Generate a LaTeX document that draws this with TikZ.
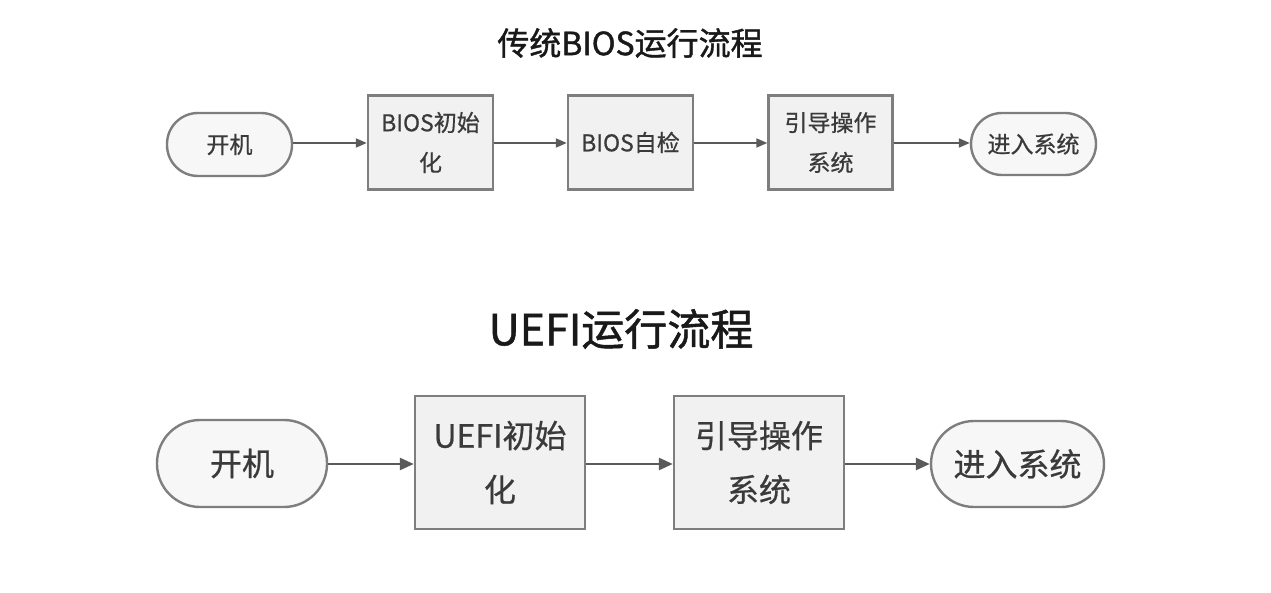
\documentclass[tikz,border=0pt]{standalone}
\usepackage{fontspec}
\newfontfamily\cjk[FakeBold=0.6]{Noto Sans CJK SC}
\newfontfamily\cjkt[FakeBold=1.2]{Noto Sans CJK SC}
\usetikzlibrary{arrows.meta}
\definecolor{boxline}{HTML}{7E7E7E}
\definecolor{boxfill}{HTML}{F1F1F1}
\definecolor{pillfill}{HTML}{F7F7F7}
\definecolor{txt}{HTML}{3A3A3A}
\definecolor{arr}{HTML}{5A5A5A}
\tikzset{
  stepbox/.style={draw=boxline, fill=boxfill, line width=2.4pt, inner sep=0pt, align=center, text=txt},
  pill/.style={stepbox, fill=pillfill},
  smalltxt/.style={font=\cjk\fontsize{23}{40}\selectfont},
  bigtxt/.style={font=\cjk\fontsize{32}{54}\selectfont},
  flow/.style={draw=arr, line width=2pt, -{Triangle[length=11pt,width=9pt]}},
  flowbig/.style={draw=arr, line width=2.6pt, -{Triangle[length=14pt,width=12pt]}},
}
\begin{document}
\begin{tikzpicture}[x=1pt,y=-1pt]
\useasboundingbox[fill=white] (0,0) rectangle (1271,593);
% titles
\node[font=\cjkt\fontsize{32}{36}\selectfont, text=black!90] (t1) at (630,43) {传统BIOS运行流程};
\node[font=\cjkt\fontsize{43}{48}\selectfont, text=black!90] (t2) at (621,329) {UEFI运行流程};
% top row
\node[pill, smalltxt, minimum width=125pt, minimum height=63pt, rounded corners=31pt] (a1) at (229.5,144.5) {开机};
\node[stepbox, smalltxt, minimum width=125pt, minimum height=94pt] (a2) at (430.5,142.5) {BIOS初始\\化};
\node[stepbox, smalltxt, minimum width=125pt, minimum height=94pt] (a3) at (630.5,142.5) {BIOS自检};
\node[stepbox, smalltxt, minimum width=124pt, minimum height=94pt] (a4) at (830.5,142.5) {引导操作\\系统};
\node[pill, smalltxt, minimum width=125pt, minimum height=62pt, rounded corners=31pt] (a5) at (1033.5,144) {进入系统};
\draw[flow] (a1.east |- 0,143) -- (a2.west |- 0,143);
\draw[flow] (a2.east |- 0,143) -- (a3.west |- 0,143);
\draw[flow] (a3.east |- 0,143) -- (a4.west |- 0,143);
\draw[flow] (a4.east |- 0,143) -- (a5.west |- 0,143);
% bottom row
\node[pill, bigtxt, minimum width=170pt, minimum height=87pt, rounded corners=43pt] (b1) at (242,463.5) {开机};
\node[stepbox, bigtxt, minimum width=170pt, minimum height=133pt] (b2) at (500,462.5) {UEFI初始\\化};
\node[stepbox, bigtxt, minimum width=170pt, minimum height=133pt] (b3) at (759,462.5) {引导操作\\系统};
\node[pill, bigtxt, minimum width=173pt, minimum height=86pt, rounded corners=43pt] (b4) at (1017.5,464) {进入系统};
\draw[flowbig] (b1.east |- 0,464) -- (b2.west |- 0,464);
\draw[flowbig] (b2.east |- 0,464) -- (b3.west |- 0,464);
\draw[flowbig] (b3.east |- 0,464) -- (b4.west |- 0,464);
\end{tikzpicture}
\end{document}
